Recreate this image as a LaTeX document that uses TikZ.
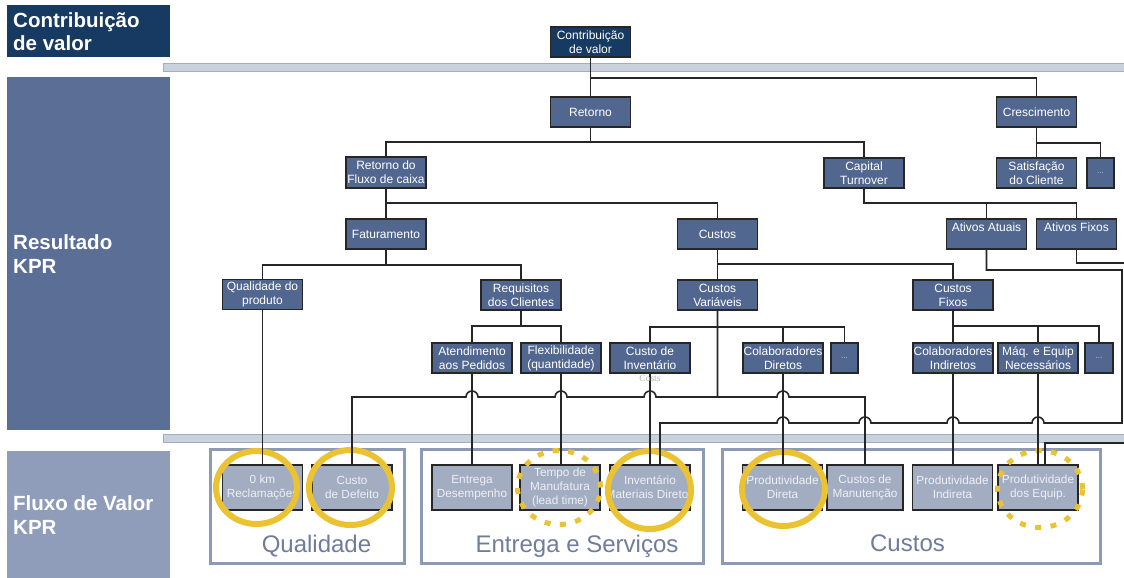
\documentclass[tikz,border=0pt]{standalone}
\usepackage{fontspec}
\setmainfont{Liberation Sans}
\newfontfamily\ghostfont{Liberation Serif}
\usetikzlibrary{calc}
\definecolor{navy}{HTML}{173A63}
\definecolor{midblue}{HTML}{5B6E96}
\definecolor{lowblue}{HTML}{8F9DBA}
\definecolor{nodeblue}{HTML}{52678F}
\definecolor{lightnode}{HTML}{A2ADC2}
\definecolor{linec}{HTML}{262626}
\definecolor{barfill}{HTML}{C9D1DD}
\definecolor{barline}{HTML}{A3ADBD}
\definecolor{grpline}{HTML}{8C9AB6}
\definecolor{grptext}{HTML}{6F7D9B}
\definecolor{ringc}{HTML}{EBC232}
\definecolor{lighttext}{HTML}{EEF0F5}
\definecolor{dotgray}{HTML}{C3C9D6}
\pgfdeclarelayer{back}
\pgfdeclarelayer{ringl}
\pgfdeclarelayer{linel}
\pgfsetlayers{back,ringl,linel,main}
\begin{document}
\begin{tikzpicture}[x=1pt,y=1pt,
 kprbox/.style={draw=linec, line width=1.6pt, fill=nodeblue, text=white, minimum width=80pt, minimum height=30pt, inner sep=0pt, align=center, font=\fontsize{12}{14}\selectfont},
 dotsbox/.style={kprbox, minimum width=27pt, text=dotgray, font=\fontsize{8}{9}\selectfont},
 flowbox/.style={draw=linec, line width=1.6pt, fill=lightnode, text=lighttext, minimum width=80pt, minimum height=45pt, inner sep=0pt, align=center, font=\fontsize{11.8}{14}\selectfont},
 conn/.style={draw=linec, line width=1.6pt},
 ring/.style={draw=ringc, line width=6pt},
 dotring/.style={draw=ringc, line width=5pt, dash pattern=on 6pt off 9.5pt},
 sidetext/.style={text=white, font=\fontsize{20.5}{23.5}\selectfont\bfseries, align=left, anchor=west, inner sep=0pt},
 grplabel/.style={text=grptext, font=\fontsize{24}{28}\selectfont, inner sep=0pt, anchor=base},
 sepbar/.style={fill=barfill, draw=barline, line width=0.6pt},
 grpbox/.style={draw=grpline, line width=3pt, fill=white},
]
\useasboundingbox (0,0) rectangle (1124,-578);

% ---------- background layer ----------
\begin{pgfonlayer}{back}
\fill[white] (0,0) rectangle (1124,-578);
\fill[navy] (7,-5) rectangle (170,-57);
\fill[midblue] (7,-77) rectangle (170,-430);
\fill[lowblue] (7,-451) rectangle (170,-578);
\draw[sepbar] (163,-63) rectangle (1126,-71);
\draw[sepbar] (163,-434) rectangle (1126,-442);
\draw[grpbox] (210.5,-449.5) rectangle (404.5,-563.5);
\draw[grpbox] (421.5,-449.5) rectangle (703.5,-563.5);
\draw[grpbox] (722.5,-449.5) rectangle (1100.5,-563.5);
\node[grplabel] (lq) at (316.5,-552) {Qualidade};
\node[grplabel] (le) at (577,-552) {Entrega e Serviços};
\node[grplabel] (lc) at (907.5,-551) {Custos};
% flow value boxes
\node[flowbox] (km) at (262.5,-487.5) {0 km\\Reclamações};
\node[flowbox] (cdef) at (352,-487.5) {Custo\\de Defeito};
\node[flowbox] (entd) at (472,-487.5) {Entrega\\Desempenho};
\node[flowbox] (tman) at (560,-487.5) {Tempo de\\Manufatura\\(lead time)};
\node[flowbox] (inv) at (650,-487.5) {Inventário\\\makebox[76pt]{Materiais Diretos}};
\node[flowbox] (pdir) at (782.5,-487.5) {Produtividade\\Direta};
\node[flowbox, minimum width=76pt] (cman) at (865,-487.5) {Custos de\\Manutenção};
\node[flowbox] (pind) at (952.5,-487.5) {Produtividade\\Indireta};
\node[flowbox] (peq) at (1038,-487.5) {Produtividade\\dos Equip.};
\end{pgfonlayer}

% ---------- side labels ----------
\node[sidetext] (t1) at (13,-31.5) {Contribuição\\de valor};
\node[sidetext] (t2) at (13,-254) {Resultado\\KPR};
\node[sidetext] (t3) at (13,-515) {Fluxo de Valor\\KPR};

% ---------- tree nodes ----------
\node[kprbox, fill=navy] (cvtop) at (590.5,-42) {Contribuição\\de valor};
\node[kprbox] (ret) at (590.5,-112) {Retorno};
\node[kprbox] (cres) at (1036.5,-112) {Crescimento};
\node[kprbox, minimum height=31pt] (rfc) at (386,-172.5) {Retorno do\\Fluxo de caixa};
\node[kprbox] (cap) at (864,-173) {Capital\\Turnover};
\node[kprbox] (sat) at (1036.5,-173) {Satisfação\\do Cliente};
\node[dotsbox] (dots1) at (1100.5,-173) {...};
\node[kprbox] (fat) at (386,-234) {Faturamento};
\node[kprbox] (cus) at (717.5,-234) {Custos};
\node[kprbox] (aa) at (986.5,-234) {Ativos Atuais\\\mbox{}};
\node[kprbox] (af) at (1076.5,-234) {Ativos Fixos\\\mbox{}};
\node[kprbox] (qp) at (262.5,-294.5) {Qualidade do\\produto};
\node[kprbox] (req) at (521,-295) {Requisitos\\dos Clientes};
\node[kprbox] (cvar) at (717.5,-295) {Custos\\Variáveis};
\node[kprbox] (cfix) at (953,-295) {Custos\\Fixos};
\node[kprbox] (atd) at (472,-358) {Atendimento\\aos Pedidos};
\node[kprbox] (flex) at (561,-358) {Flexibilidade\\(quantidade)};
\node[kprbox] (cinv) at (650,-358) {Custo de\\Inventário};
\node[kprbox] (cold) at (783,-358) {\makebox[76pt]{Colaboradores}\\Diretos};
\node[dotsbox] (dots2) at (844.5,-358) {...};
\node[kprbox] (coli) at (953,-358) {\makebox[76pt]{Colaboradores}\\Indiretos};
\node[kprbox] (maq) at (1038,-358) {Máq. e Equip\\Necessários};
\node[dotsbox, minimum width=28pt] (dots3) at (1099,-358) {...};
\node[text=gray!60, font=\ghostfont\fontsize{9.5}{10}\selectfont, inner sep=0pt] (costs) at (650,-378) {Costs};

% ---------- rings ----------
\begin{pgfonlayer}{ringl}
\draw[ring] (256.5,-487.5) ellipse [x radius=40.5, y radius=36.5];
\draw[ring] (350.5,-487.5) ellipse [x radius=41.5, y radius=37.5];
\draw[ring] (649.5,-490) ellipse [x radius=41.5, y radius=39];
\draw[ring] (783.5,-489) ellipse [x radius=41.5, y radius=37];
\draw[dotring] (559,-487.5) ellipse [x radius=41.5, y radius=37];
\draw[dotring] (1040,-489) ellipse [x radius=42.5, y radius=38.5];
\end{pgfonlayer}

% ---------- connectors ----------
\coordinate (j1) at (590.5,-142);
\coordinate (j2) at (1036.5,-143);
\coordinate (j3) at (864,-203);
\coordinate (j4) at (386,-203);
\coordinate (j5) at (386,-265);
\coordinate (j6) at (717.5,-264);
\coordinate (j7) at (521,-326);
\coordinate (j8) at (717.5,-327);
\coordinate (j9) at (953,-326);
\coordinate (b1) at (717.5,-397);
\coordinate (r1) at (1122,-270);
\coordinate (r2) at (1122,-423);
\coordinate (edgeA) at (1125,-263);
\coordinate (edgeB) at (1125,-443);
\begin{pgfonlayer}{linel}
\draw[conn] (cvtop.south) -- (ret.north);
\draw[conn] ($(cvtop.south)+(0,-20)$) -| (cres.north);
\draw[conn] (ret.south) -- (j1);
\draw[conn] (rfc.north) |- (j1) -| (cap.north);
\draw[conn] (cres.south) -- (sat.north);
\draw[conn] (j2) -| (dots1.north);
\draw[conn] (cap.south) |- (j3) -| (af.north);
\draw[conn] (aa.north) -- (aa.north |- j3);
\draw[conn] (rfc.south) -- (fat.north);
\draw[conn] (j4) -| (cus.north);
\draw[conn] (fat.south) -- (j5);
\draw[conn] (qp.north) |- (j5) -| (req.north);
\draw[conn] (cus.south) -- (cvar.north);
\draw[conn] (j6) -| (cfix.north);
\draw[conn] (req.south) -- (j7);
\draw[conn] (atd.north) |- (j7) -| (flex.north);
\draw[conn] (cinv.north) |- (j8) -| (dots2.north);
\draw[conn] (cold.north) -- (cold.north |- j8);
\draw[conn] (cfix.south) -- (coli.north);
\draw[conn] (j9) -| (dots3.north);
\draw[conn] (maq.north) -- (maq.north |- j9);
% verticals to value-flow boxes
\draw[conn] (qp.south) -- (qp.south |- km.north);
\draw[conn] (atd.south) -- (entd.north);
\draw[conn] (flex.south) -- (flex.south |- tman.north);
\draw[conn] (cinv.south) -- (inv.north);
\draw[conn] (cold.south) -- (cold.south |- pdir.north);
\draw[conn] (coli.south) -- (coli.south |- pind.north);
\draw[conn] (maq.south) -- (peq.north);
% variable costs bus with bridges
\draw[conn] (cvar.south) -- (b1) -- (656,-397)
  arc[start angle=0, end angle=180, radius=6] -- (567,-397)
  arc[start angle=0, end angle=180, radius=6] -- (478,-397)
  arc[start angle=0, end angle=180, radius=6] -| (cdef.north);
\draw[conn] (b1) -- (777,-397)
  arc[start angle=180, end angle=0, radius=6] -| (cman.north);
% current assets route
\draw[conn] (aa.south) |- (r1) -- (r2) -- (1044,-423)
  arc[start angle=0, end angle=180, radius=6] -- (959,-423)
  arc[start angle=0, end angle=180, radius=6] -- (871,-423)
  arc[start angle=0, end angle=180, radius=6] -- (789,-423)
  arc[start angle=0, end angle=180, radius=6] -| ($(inv.north)+(10,0)$);
% fixed assets route
\draw[conn] (af.south) |- (edgeA);
\draw[conn] (edgeB) -| ($(peq.north)+(7,0)$);
\end{pgfonlayer}
\end{tikzpicture}
\end{document}
